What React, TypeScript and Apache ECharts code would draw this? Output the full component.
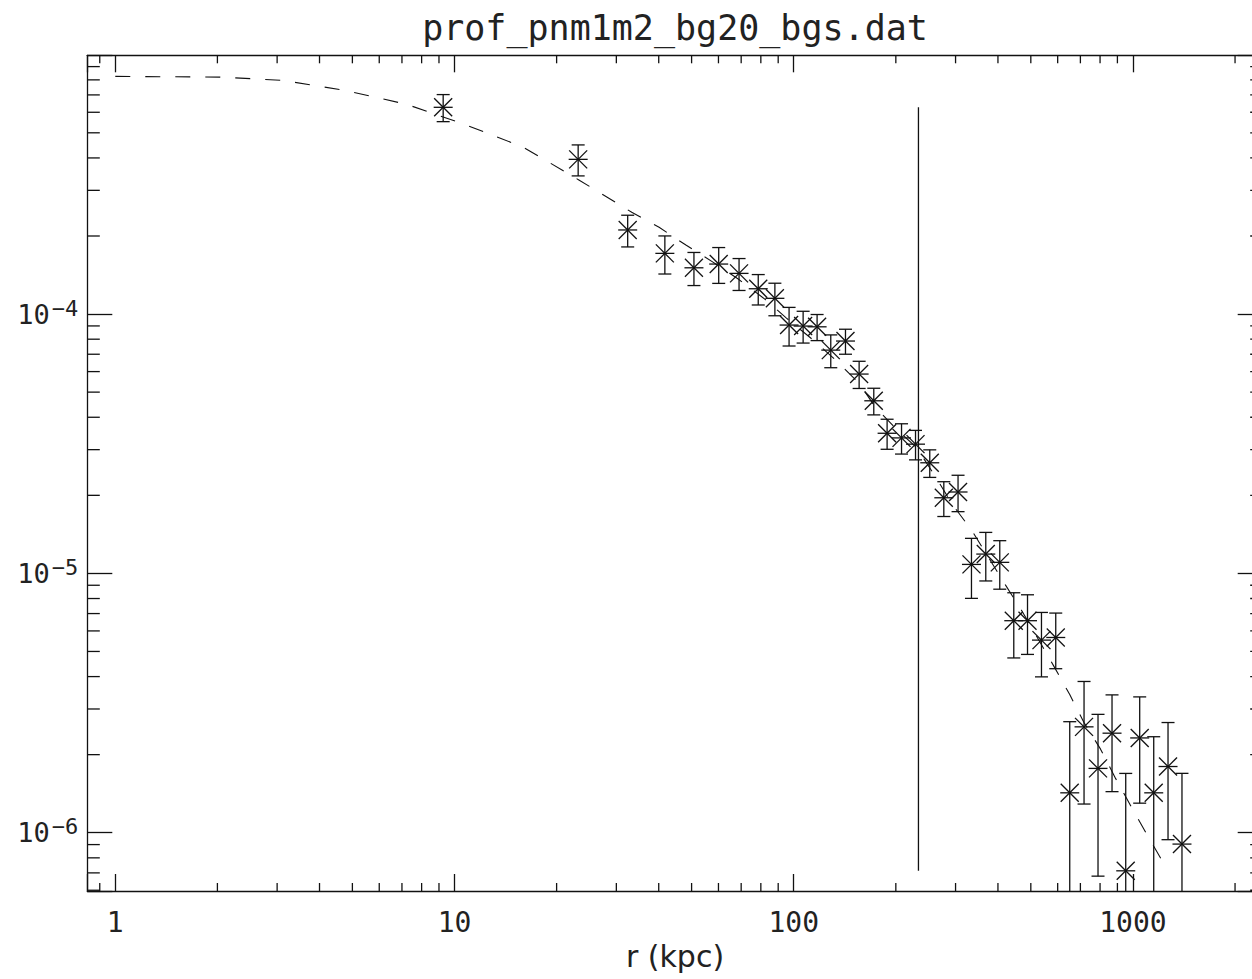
import React, { useEffect, useRef } from "react";
import * as echarts from "echarts";

// ---- data ----
const radiusKpc = [
  9.26, 23.15, 32.4, 41.7, 50.8, 60.1, 69.0, 78.6, 88.0, 96.9, 106.6, 117.2, 128.6,
  142.1, 155.9, 172.2, 188.5, 207.9, 228.6, 251.8, 277.0, 305.1, 334.2, 368.3, 405.0,
  445.4, 488.9, 537.5, 592.2, 651.2, 717.6, 789.0, 867.7, 952.3, 1047, 1151.6, 1269, 1395,
];
const surfaceBrightness = [
  6.27e-4, 3.95e-4, 2.11e-4, 1.714e-4, 1.508e-4, 1.559e-4, 1.435e-4, 1.252e-4, 1.15e-4,
  9.07e-5, 8.99e-5, 8.93e-5, 7.26e-5, 7.87e-5, 5.87e-5, 4.63e-5, 3.47e-5, 3.33e-5,
  3.15e-5, 2.67e-5, 1.957e-5, 2.06e-5, 1.083e-5, 1.187e-5, 1.103e-5, 6.57e-6, 6.57e-6,
  5.53e-6, 5.66e-6, 1.425e-6, 2.56e-6, 1.77e-6, 2.42e-6, 7.13e-7, 2.32e-6, 1.425e-6,
  1.8e-6, 9.04e-7,
];
const brightnessError = [
  7.5e-5, 5.4e-5, 2.95e-5, 2.87e-5, 2.2e-5, 2.46e-5, 2.02e-5, 1.68e-5, 1.65e-5, 1.54e-5,
  1.26e-5, 1.03e-5, 1.05e-5, 8.7e-6, 7.05e-6, 5.45e-6, 4.6e-6, 4.45e-6, 4.1e-6, 3.25e-6,
  3.0e-6, 3.3e-6, 2.82e-6, 2.52e-6, 2.34e-6, 1.85e-6, 1.7e-6, 1.54e-6, 1.37e-6, 1.255e-6,
  1.27e-6, 1.09e-6, 0.98e-6, 0.98e-6, 1.02e-6, 0.92e-6, 0.86e-6, 0.79e-6,
];
const modelRadius = [
  1, 2.035, 3.1, 4.69, 7.19, 10.66, 15.9, 23.26, 33.3, 40.1, 48.1, 57.8, 68.6, 82.2, 95.2,
  114.1, 134.4, 156.6, 173.4, 200.6, 230.1, 264.6, 293, 335.6, 421.2, 471.2, 584.4, 651.2,
  717.2, 802.7, 888.8, 983.8, 1093, 1216, 1269,
];
const modelBrightness = [
  8.25e-4, 8.2e-4, 7.97e-4, 7.31e-4, 6.45e-4, 5.4e-4, 4.41e-4, 3.29e-4, 2.47e-4, 2.16e-4,
  1.845e-4, 1.586e-4, 1.365e-4, 1.142e-4, 9.65e-5, 7.94e-5, 6.56e-5, 5.37e-5, 4.4e-5,
  3.6e-5, 3.06e-5, 2.31e-5, 1.85e-5, 1.459e-5, 9.01e-6, 7.15e-6, 4.39e-6, 3.41e-6,
  2.66e-6, 2.1e-6, 1.62e-6, 1.274e-6, 9.97e-7, 7.84e-7, 7.18e-7,
];
const cutRadius = 233.2;
const titleText = "prof_pnm1m2_bg20_bgs.dat";
const xAxisTitle = "r (kpc)";

// axis ranges
const X_MIN = 0.827;
const X_MAX = 2413;
const Y_MIN = 5.96e-7;
const Y_MAX = 9.95e-4;

const MONO = "'DejaVu Sans Mono', 'Liberation Mono', monospace";
const SANS = "'DejaVu Sans', 'Liberation Sans', sans-serif";
const INK = "#111";
const TEXT_INK = "#222";

function isPow10(v: number) {
  const l = Math.log10(v);
  return Math.abs(l - Math.round(l)) < 1e-6;
}

function minorValues(lo: number, hi: number, e0: number, e1: number) {
  const out: number[] = [];
  for (let e = e0; e <= e1; e++) {
    for (let m = 2; m <= 9; m++) {
      const v = m * Math.pow(10, e);
      if (v > lo && v < hi) out.push(v);
    }
  }
  return out;
}

export default function App() {
  const ref = useRef<HTMLDivElement>(null);

  useEffect(() => {
    if (!ref.current) return;
    const chart = echarts.init(ref.current, undefined, { renderer: "svg" });

    const pointData = radiusKpc.map((r, i) => [
      r,
      surfaceBrightness[i],
      surfaceBrightness[i] - brightnessError[i],
      surfaceBrightness[i] + brightnessError[i],
    ]);
    const modelData = modelRadius.map((r, i) => [r, modelBrightness[i]]);
    const cutData = [
      [cutRadius, Math.min(...surfaceBrightness)],
      [cutRadius, Math.max(...surfaceBrightness)],
    ];
    const xMinor = minorValues(X_MIN, X_MAX, -1, 3).map((v) => [v, Y_MIN]);
    const yMinor = minorValues(Y_MIN, Y_MAX, -7, -4).map((v) => [X_MIN, v]);

    const lineStyle = { stroke: INK, lineWidth: 1.3 };

    const xAxisBase: any = {
      type: "log",
      logBase: 10,
      min: X_MIN,
      max: X_MAX,
      axisLine: { show: true, onZero: false, lineStyle: { color: INK, width: 1.3 } },
      axisTick: { show: true, inside: true, length: 17, lineStyle: { color: INK, width: 1.3 } },
      splitLine: { show: false },
      minorTick: { show: false },
    };
    const yAxisBase: any = {
      type: "log",
      logBase: 10,
      min: Y_MIN,
      max: Y_MAX,
      axisLine: { show: true, onZero: false, lineStyle: { color: INK, width: 1.3 } },
      axisTick: { show: true, inside: true, length: 25, lineStyle: { color: INK, width: 1.3 } },
      splitLine: { show: false },
      minorTick: { show: false },
    };

    chart.setOption({
      animation: false,
      backgroundColor: "#fff",
      grid: { left: 87.3, top: 55.3, width: 1175.4, height: 835.7, containLabel: false },
      graphic: [
        {
          type: "text",
          x: 675,
          y: 28,
          style: {
            text: titleText,
            fill: TEXT_INK,
            font: `normal 35px ${MONO}`,
            textAlign: "center",
            textVerticalAlign: "middle",
            verticalAlign: "middle",
          },
        },
      ],
      xAxis: [
        {
          ...xAxisBase,
          position: "bottom",
          name: xAxisTitle,
          nameLocation: "middle",
          nameGap: 50,
          nameTextStyle: { fontFamily: SANS, fontSize: 30, color: TEXT_INK, verticalAlign: "top" },
          axisLabel: {
            show: true,
            margin: 17,
            fontFamily: MONO,
            fontSize: 28,
            color: TEXT_INK,
            formatter: (v: number) => (isPow10(v) ? String(Math.round(v)) : ""),
          },
        },
        { ...xAxisBase, position: "top", axisLabel: { show: false } },
      ],
      yAxis: [
        {
          ...yAxisBase,
          position: "left",
          axisLabel: {
            show: true,
            margin: 9,
            color: TEXT_INK,
            formatter: (v: number) => {
              if (!isPow10(v)) return "";
              const e = Math.round(Math.log10(v));
              return `{a|10}{b|${e < 0 ? "\u2212" : ""}${Math.abs(e)}}`;
            },
            rich: {
              a: { fontFamily: MONO, fontSize: 27, lineHeight: 34, color: TEXT_INK },
              b: {
                fontFamily: MONO,
                fontSize: 22,
                lineHeight: 20,
                verticalAlign: "top",
                color: TEXT_INK,
                padding: [0, 0, 0, 2],
              },
            },
          },
        },
        { ...yAxisBase, position: "right", axisLabel: { show: false } },
      ],
      series: [
        {
          type: "line",
          name: "model",
          data: modelData,
          showSymbol: false,
          symbol: "none",
          smooth: false,
          lineStyle: { color: INK, width: 1.1, type: [15, 15] },
          z: 2,
        },
        {
          type: "line",
          name: "cut",
          data: cutData,
          showSymbol: false,
          symbol: "none",
          lineStyle: { color: INK, width: 1.3, type: "solid" },
          z: 2,
        },
        {
          type: "custom",
          name: "profile",
          data: pointData,
          clip: false,
          z: 3,
          encode: { x: 0, y: 1 },
          renderItem: (params: any, api: any) => {
            const x = api.value(0);
            const y = api.value(1);
            const lo = api.value(2);
            const hi = api.value(3);
            const c = api.coord([x, y]);
            const t = api.coord([x, Math.min(hi, Y_MAX)]);
            const hasLow = lo > Y_MIN;
            const b = api.coord([x, hasLow ? lo : Y_MIN]);
            const cap = 6.5;
            const s = 9.5;
            const d = 9;
            const children: any[] = [
              { type: "line", shape: { x1: t[0], y1: t[1], x2: b[0], y2: b[1] }, style: lineStyle },
              { type: "line", shape: { x1: t[0] - cap, y1: t[1], x2: t[0] + cap, y2: t[1] }, style: lineStyle },
              { type: "line", shape: { x1: c[0] - s, y1: c[1], x2: c[0] + s, y2: c[1] }, style: lineStyle },
              { type: "line", shape: { x1: c[0] - d, y1: c[1] - d, x2: c[0] + d, y2: c[1] + d }, style: lineStyle },
              { type: "line", shape: { x1: c[0] - d, y1: c[1] + d, x2: c[0] + d, y2: c[1] - d }, style: lineStyle },
            ];
            if (hasLow) {
              children.push({
                type: "line",
                shape: { x1: b[0] - cap, y1: b[1], x2: b[0] + cap, y2: b[1] },
                style: lineStyle,
              });
            }
            return { type: "group", children };
          },
        },
        {
          type: "custom",
          name: "xMinorTicks",
          data: xMinor,
          clip: false,
          silent: true,
          encode: { x: 0, y: 1 },
          renderItem: (params: any, api: any) => {
            const v = api.value(0);
            const bt = api.coord([v, Y_MIN]);
            const tp = api.coord([v, Y_MAX]);
            return {
              type: "group",
              children: [
                { type: "line", shape: { x1: bt[0], y1: bt[1], x2: bt[0], y2: bt[1] - 8 }, style: lineStyle },
                { type: "line", shape: { x1: tp[0], y1: tp[1], x2: tp[0], y2: tp[1] + 8 }, style: lineStyle },
              ],
            };
          },
        },
        {
          type: "custom",
          name: "yMinorTicks",
          data: yMinor,
          clip: false,
          silent: true,
          encode: { x: 0, y: 1 },
          renderItem: (params: any, api: any) => {
            const v = api.value(1);
            const lf = api.coord([X_MIN, v]);
            const rt = api.coord([X_MAX, v]);
            return {
              type: "group",
              children: [
                { type: "line", shape: { x1: lf[0], y1: lf[1], x2: lf[0] + 12.5, y2: lf[1] }, style: lineStyle },
                { type: "line", shape: { x1: rt[0], y1: rt[1], x2: rt[0] - 12.5, y2: rt[1] }, style: lineStyle },
              ],
            };
          },
        },
      ],
    });

    return () => chart.dispose();
  }, []);

  return (
    <div
      style={{
        position: "fixed",
        left: 0,
        top: 0,
        width: 1252,
        height: 979,
        overflow: "hidden",
        background: "#fff",
      }}
    >
      <div ref={ref} style={{ width: 1290, height: 979 }} />
    </div>
  );
}
